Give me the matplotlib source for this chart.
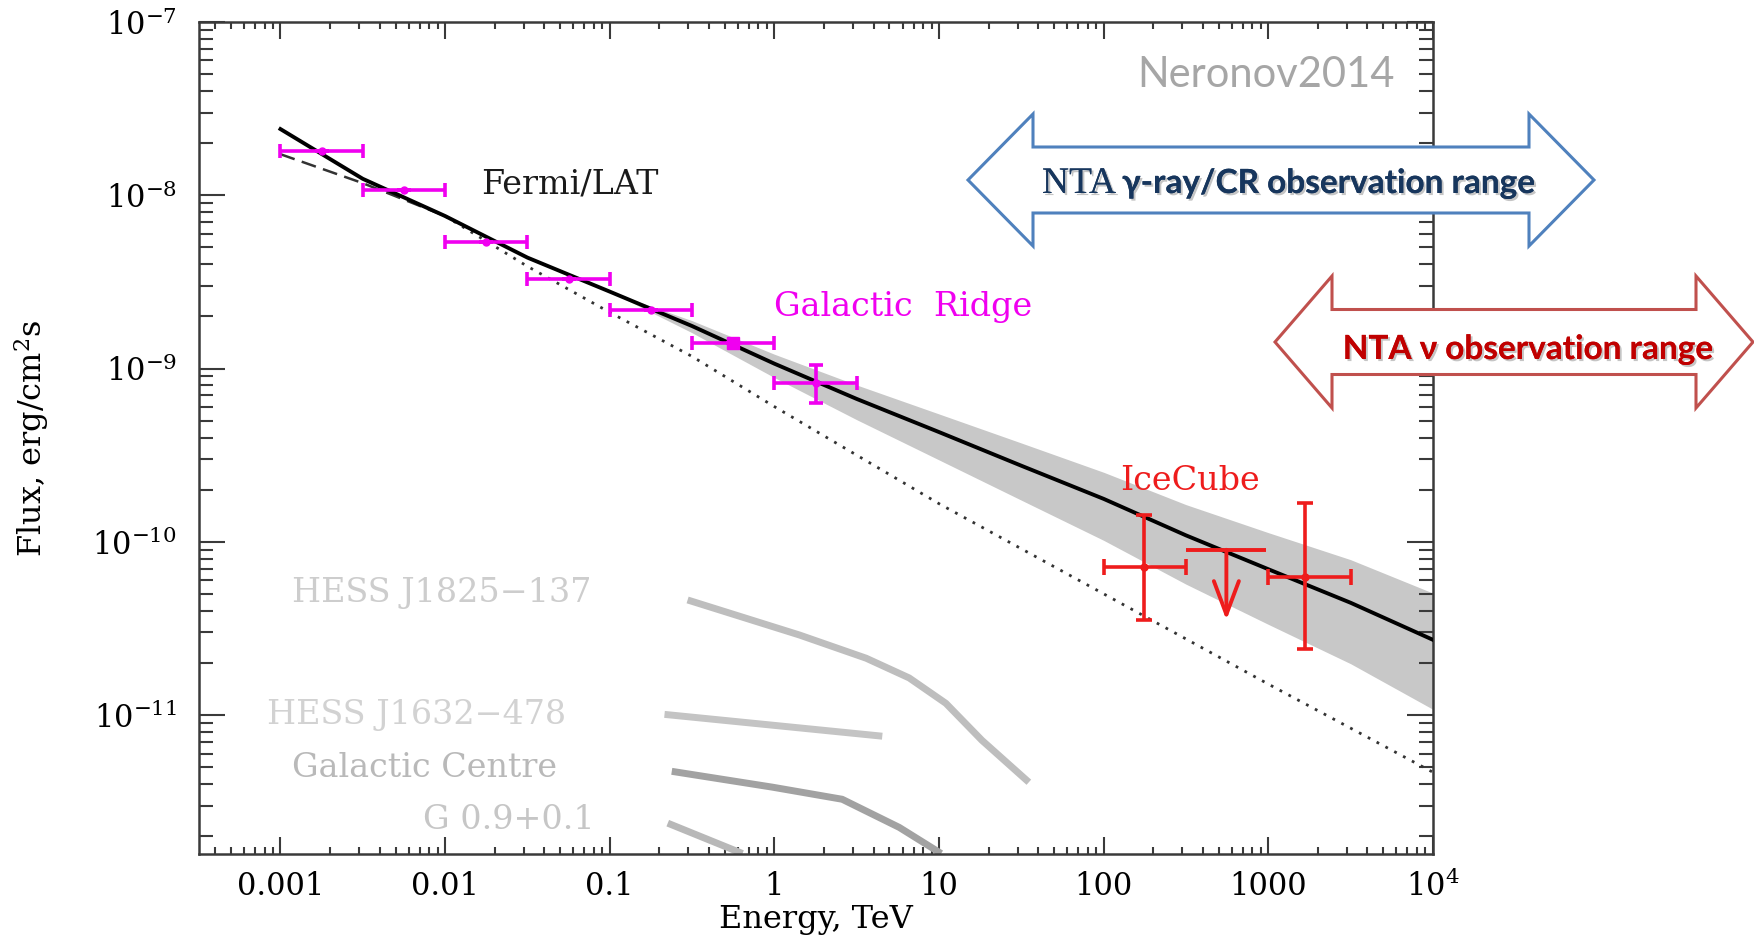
import numpy as np
import matplotlib
matplotlib.use("Agg")
import matplotlib.pyplot as plt
import matplotlib.patheffects as pe
from matplotlib.patches import Polygon
from matplotlib.ticker import FixedLocator, FixedFormatter, LogLocator, NullFormatter

plt.rcParams['font.family'] = ['DejaVu Serif']
plt.rcParams['mathtext.fontset'] = 'dejavuserif'

# Fermi/LAT Galactic Ridge points (energy in TeV, flux in erg/cm2 s)
fermi_e = [0.00178, 0.00562, 0.0178, 0.0562, 0.178, 0.562, 1.78]
fermi_e_lo = [0.001, 0.00316, 0.01, 0.0316, 0.1, 0.316, 1.0]
fermi_e_hi = [0.00316, 0.01, 0.0316, 0.1, 0.316, 1.0, 3.16]
fermi_flux = [1.79e-8, 1.07e-8, 5.4e-9, 3.27e-9, 2.19e-9, 1.41e-9, 8.3e-10]
fermi_flux_lo = [1.79e-8, 1.07e-8, 5.4e-9, 3.27e-9, 2.19e-9, 1.41e-9, 6.35e-10]
fermi_flux_hi = [1.79e-8, 1.07e-8, 5.4e-9, 3.27e-9, 2.19e-9, 1.41e-9, 1.05e-9]

# IceCube points + upper limit
ice_e = [175, 1680]
ice_e_lo = [100, 1000]
ice_e_hi = [316, 3160]
ice_flux = [7.16e-11, 6.28e-11]
ice_flux_lo = [3.54e-11, 2.41e-11]
ice_flux_hi = [1.43e-10, 1.68e-10]
ul_e, ul_e_lo, ul_e_hi = 556, 316, 973
ul_flux, ul_tip = 9.0e-11, 3.54e-11

# model curves
model_e = [0.001, 0.00316, 0.01, 0.0316, 0.1, 0.316, 1, 3.16, 10, 31.6, 100, 316, 1000, 3162, 10000]
model_flux = [2.41e-8, 1.245e-8, 7.59e-9, 4.37e-9, 2.78e-9, 1.76e-9, 1.067e-9, 6.68e-10,
              4.30e-10, 2.75e-10, 1.77e-10, 1.09e-10, 6.95e-11, 4.45e-11, 2.72e-11]
pion_e = [0.001, 0.00316, 0.01, 0.0316, 0.1, 0.316, 1, 10, 100, 1000, 10000]
pion_flux = [1.726e-8, 1.175e-8, 7.59e-9, 3.89e-9, 2.11e-9, 1.175e-9, 6.03e-10,
             1.66e-10, 5.01e-11, 1.51e-11, 4.68e-12]
band_e = [0.1, 0.316, 1, 3.16, 10, 31.6, 100, 316, 1000, 3162, 10000]
band_hi = [2.78e-9, 1.89e-9, 1.21e-9, 8.04e-10, 5.47e-10, 3.72e-10, 2.52e-10,
           1.64e-10, 1.13e-10, 7.89e-11, 5.06e-11]
band_lo = [2.78e-9, 1.61e-9, 8.87e-10, 5.07e-10, 2.97e-10, 1.74e-10, 1.02e-10,
           5.70e-11, 3.34e-11, 1.98e-11, 1.08e-11]

# HESS sources
j1825_e = [0.297, 1.42, 3.61, 6.58, 11.0, 18.2, 35.1]
j1825_flux = [4.62e-11, 2.90e-11, 2.13e-11, 1.64e-11, 1.17e-11, 7.16e-12, 4.10e-12]
j1632_e = [0.215, 0.973, 4.52]
j1632_flux = [1.01e-11, 8.75e-12, 7.56e-12]
gc_e = [0.238, 0.973, 2.58, 5.73, 10.3]
gc_flux = [4.74e-12, 3.84e-12, 3.27e-12, 2.25e-12, 1.59e-12]
g09_e = [0.225, 0.64]
g09_flux = [2.38e-12, 1.59e-12]

x_ticks = [1e-3, 1e-2, 1e-1, 1, 10, 100, 1000, 1e4]
x_labels = ['0.001', '0.01', '0.1', '1', '10', '100', '1000', '$10^4$']
y_ticks = [1e-11, 1e-10, 1e-9, 1e-8, 1e-7]
y_labels = ['$10^{-11}$', '$10^{-10}$', '$10^{-9}$', '$10^{-8}$', '$10^{-7}$']

W, H = 1754, 938
fig = plt.figure(figsize=(W / 100, H / 100), dpi=100)
ax = fig.add_axes([199 / W, 1 - 854 / H, (1433 - 199) / W, (854 - 22) / H])
ax.set_xscale('log')
ax.set_yscale('log')
ax.set_xlim(3.2e-4, 1e4)
ax.set_ylim(1.58e-12, 1e-7)

magenta = '#f000f0'
red = '#ee1c1c'

ax.fill_between(band_e, band_lo, band_hi, color='#c8c8c8', lw=0, zorder=1)
ax.plot(pion_e[:3], pion_flux[:3], color='#333333', lw=1.8, ls=(0, (6, 3)), zorder=2)
ax.plot(pion_e[2:], pion_flux[2:], color='#333333', lw=2, ls=(0, (1, 2.6)), zorder=2)
ax.plot(model_e, model_flux, color='black', lw=2.8, zorder=3)

ax.plot(j1825_e, j1825_flux, color='#bebebe', lw=5, solid_capstyle='butt')
ax.plot(j1632_e, j1632_flux, color='#c4c4c4', lw=5, solid_capstyle='butt')
ax.plot(gc_e, gc_flux, color='#a2a2a2', lw=5, solid_capstyle='butt')
ax.plot(g09_e, g09_flux, color='#b8b8b8', lw=5, solid_capstyle='butt')

fe = np.array(fermi_e)
ff = np.array(fermi_flux)
ax.errorbar(fe, ff, xerr=[fe - np.array(fermi_e_lo), np.array(fermi_e_hi) - fe],
            yerr=[ff - np.array(fermi_flux_lo), np.array(fermi_flux_hi) - ff],
            fmt='none', ecolor=magenta, elinewidth=2.6, capsize=5, capthick=2.6, zorder=5)
ax.plot(fe, ff, 'o', color=magenta, ms=5, zorder=6)
ax.plot(fe[5], ff[5], 's', color=magenta, ms=9, zorder=6)

ie = np.array(ice_e)
iflux = np.array(ice_flux)
ax.errorbar(ie, iflux, xerr=[ie - np.array(ice_e_lo), np.array(ice_e_hi) - ie],
            yerr=[iflux - np.array(ice_flux_lo), np.array(ice_flux_hi) - iflux],
            fmt='o', ms=5, color=red, elinewidth=2.6, capsize=5.5, capthick=2.6, zorder=5)
ax.errorbar([ul_e], [ul_flux], xerr=[[ul_e - ul_e_lo], [ul_e_hi - ul_e]],
            fmt='none', ecolor=red, elinewidth=2.8, capsize=0, zorder=5)
ax.annotate('', xy=(ul_e, ul_tip), xytext=(ul_e, ul_flux),
            arrowprops=dict(arrowstyle='->,head_length=2.4,head_width=0.9', color=red,
                            lw=2.8, shrinkA=0, shrinkB=0), zorder=5)

# labels inside the plot
lab = dict(fontsize=24, va='center')
ax.text(0.0165, 1.16e-8, 'Fermi/LAT', color='#1a1a1a', **lab)
ax.text(1.0, 2.28e-9, 'Galactic  Ridge', color=magenta, **lab)
ax.text(336, 2.25e-10, 'IceCube', color=red, ha='center', **lab)
ax.text(0.00118, 5.07e-11, 'HESS J1825\u2212137', color='#cdcdcd', **lab)
ax.text(0.000834, 1.0e-11, 'HESS J1632\u2212478', color='#d2d2d2', **lab)
ax.text(0.00118, 4.94e-12, 'Galactic Centre', color='#b9b9b9', **lab)
ax.text(0.00736, 2.47e-12, 'G 0.9+0.1', color='#c6c6c6', **lab)

# axes styling
for s in ax.spines.values():
    s.set_linewidth(1.8)
    s.set_color('#3a3a3a')
ax.xaxis.set_major_locator(FixedLocator(x_ticks))
ax.xaxis.set_major_formatter(FixedFormatter(x_labels))
ax.xaxis.set_minor_locator(LogLocator(base=10, subs=np.arange(2, 10), numticks=100))
ax.xaxis.set_minor_formatter(NullFormatter())
ax.yaxis.set_major_locator(FixedLocator(y_ticks))
ax.yaxis.set_major_formatter(FixedFormatter(y_labels))
ax.yaxis.set_minor_locator(LogLocator(base=10, subs=np.arange(2, 10), numticks=100))
ax.yaxis.set_minor_formatter(NullFormatter())
ax.tick_params(which='both', direction='in', top=True, right=True, color='#3a3a3a', width=1.5)
ax.tick_params(axis='x', which='major', length=12, pad=12, labelsize=22)
ax.tick_params(axis='x', which='minor', length=5)
ax.tick_params(axis='y', which='major', length=19, pad=16, labelsize=22)
ax.tick_params(axis='y', which='minor', length=10)

ax.set_xlabel('Energy, TeV', fontsize=23)
ax.xaxis.set_label_coords(0.5, -0.079)
ax.xaxis.label.set_va('center')
ax.set_ylabel('Flux, erg/cm$^2$s', fontsize=23)
ax.yaxis.set_label_coords(-0.136, 0.5)
ax.yaxis.label.set_va('center')


def fxy(x, y):
    return (x / W, 1 - y / H)


def double_arrow(x_left, x_right, y_mid, shaft_half, head_half, head_len, edge):
    pts = [(x_left, y_mid), (x_left + head_len, y_mid - head_half),
           (x_left + head_len, y_mid - shaft_half), (x_right - head_len, y_mid - shaft_half),
           (x_right - head_len, y_mid - head_half), (x_right, y_mid),
           (x_right - head_len, y_mid + head_half), (x_right - head_len, y_mid + shaft_half),
           (x_left + head_len, y_mid + shaft_half), (x_left + head_len, y_mid + head_half)]
    poly = Polygon([fxy(*p) for p in pts], closed=True, transform=fig.transFigure,
                   facecolor='white', edgecolor=edge, lw=2.2, zorder=3, clip_on=False)
    fig.add_artist(poly)


double_arrow(968, 1594, 180, 33, 66, 65, '#4f81bd')
double_arrow(1275, 1753, 342, 32.5, 66, 57, '#c0504d')

shadow = [pe.withSimplePatchShadow(offset=(1.5, -1.5), shadow_rgbFace='#7f7f7f', alpha=0.45), pe.Normal()]

t1 = fig.text(*fxy(1042, 193), 'NTA', family=['Liberation Serif', 'DejaVu Serif'], fontsize=27,
              color='#17365d', va='baseline', ha='left', zorder=4, path_effects=shadow)
fig.canvas.draw()
bb = t1.get_window_extent()
fig.text((bb.x1 + 6) / W, 1 - 193 / H, '\u03b3-ray/CR observation range',
         family=['Lato', 'DejaVu Sans'], fontweight='bold', fontsize=24, color='#17365d',
         va='baseline', ha='left', zorder=4, path_effects=shadow)
fig.text(*fxy(1528, 359), 'NTA \u03bd observation range', family=['Lato', 'DejaVu Sans'],
         fontweight='bold', fontsize=24, color='#c00000', va='baseline', ha='center',
         zorder=4, path_effects=shadow)
fig.text(*fxy(1395, 75), 'Neronov2014', family=['Lato', 'DejaVu Sans'], fontsize=30,
         color='#a6a6a6', va='center', ha='right', zorder=4)

fig.savefig('out.png', dpi=100, facecolor='white')
